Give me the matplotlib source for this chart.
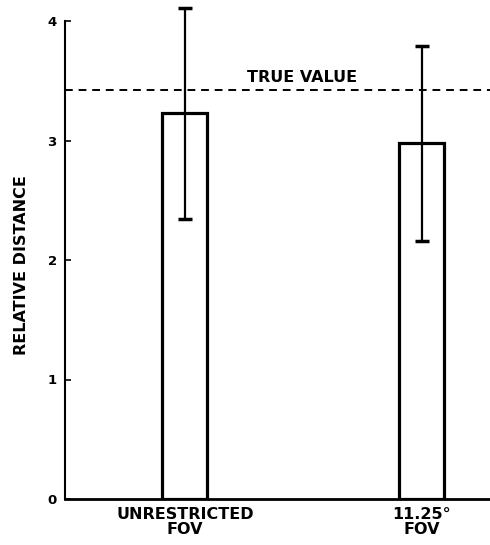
import matplotlib
matplotlib.use("Agg")
import matplotlib.pyplot as plt

categories = ["UNRESTRICTED\nFOV", "11.25°\nFOV"]
means = [3.23, 2.98]
err_low = [2.34, 2.16]
err_high = [4.11, 3.79]
true_value = 3.42
yticks = [0, 1, 2, 3, 4]

plt.rcParams['font.family'] = ['DejaVu Sans']

fig = plt.figure(figsize=(4.9, 5.45), dpi=100)
ax = fig.add_axes([65/490, 1-499/545, 1-65/490, (499-3)/545])

x = [0, 1]
yerr = [[m - lo for m, lo in zip(means, err_low)], [hi - m for m, hi in zip(means, err_high)]]
ax.bar(x, means, width=0.19, facecolor='white', edgecolor='black', linewidth=2.3, zorder=2)
ax.errorbar(x, means, yerr=yerr, fmt='none', ecolor='black', elinewidth=1.6, capsize=5, capthick=2.5, zorder=3)
ax.axhline(true_value, color='black', linestyle=(0, (4, 3)), linewidth=1.4, zorder=1)
ax.text(0.494, 3.53, "TRUE VALUE", ha='center', va='center', fontsize=11.5, fontweight='bold')

ax.set_xlim(-0.506, 1.287)
ax.set_ylim(0, (499-3)/119.5)
ax.spines['top'].set_visible(False)
ax.spines['right'].set_visible(False)
ax.spines['left'].set_bounds(0, 4)
ax.spines['left'].set_linewidth(1.5)
ax.spines['bottom'].set_linewidth(2)

ax.set_yticks(yticks)
ax.set_yticklabels([str(t) for t in yticks], fontsize=9.5, fontweight='bold')
ax.tick_params(axis='y', direction='in', length=4, width=1.2, pad=6)
ax.set_xticks(x)
ax.set_xticklabels(categories, fontsize=11.5, fontweight='bold', linespacing=1.0)
ax.tick_params(axis='x', length=0, pad=6)

fig.text(21/490, 1-265/545, "RELATIVE DISTANCE", rotation=90, ha='center', va='center',
         fontsize=11.5, fontweight='bold')

fig.savefig("out.png", dpi=100)
